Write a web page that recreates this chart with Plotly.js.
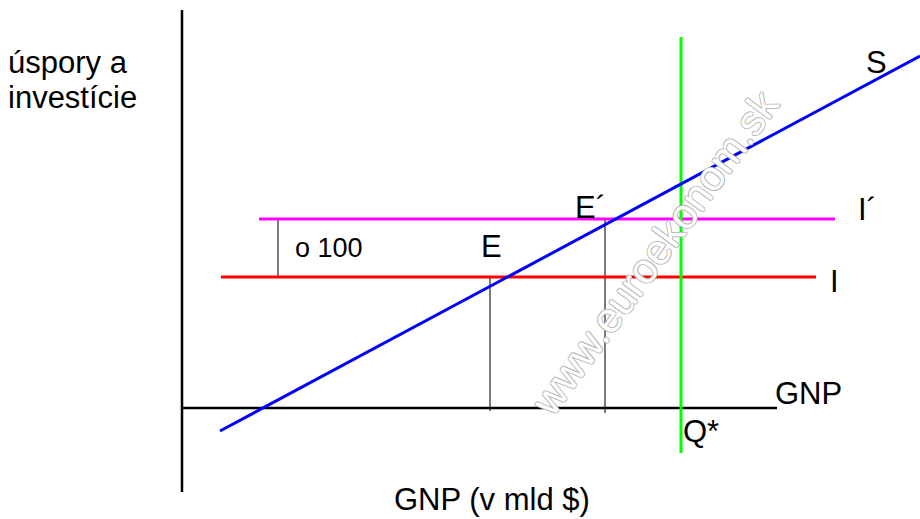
<!DOCTYPE html>
<html><head><meta charset="utf-8">
<script src="https://cdn.plot.ly/plotly-3.0.1.min.js"></script>
<style>html,body{margin:0;padding:0;background:#fff}#c{width:920px;height:519px}</style>
</head><body><div id="c"></div>
<script>
// Savings function S
const sX = [38, 738];
const sY = [-23, 352];
// Investment I
const iX = [39, 634];
const iY = [131, 131];
// Investment I´ (raised by 100)
const i2X = [77, 653];
const i2Y = [189, 189];
// Potential output Q*
const qX = [499, 499];
const qY = [371, -45];
// Equilibrium drop lines
const eX = [308, 308];
const eY = [131, -3];
const e2X = [423, 423];
const e2Y = [189, -5];
// Shift marker "o 100"
const dX = [96, 96];
const dY = [189, 131];
// Axes
const axYX = [0, 0];
const axYY = [398, -84];
const axXX = [0, 595];
const axXY = [0, 0];

const F = "Liberation Sans, Arial, sans-serif";
const line = (x, y, color, width) => ({x, y, type: 'scatter', mode: 'lines', line: {color, width}, hoverinfo: 'skip', showlegend: false});

const traces = [
  line(axYX, axYY, '#000', 2.5),
  line(axXX, axXY, '#000', 2.5),
  line(eX, eY, '#222', 1.2),
  line(e2X, e2Y, '#222', 1.2),
  line(dX, dY, '#222', 1.2),
  line(iX, iY, '#ff0000', 3),
  line(i2X, i2Y, '#ff00ff', 3),
  line(qX, qY, '#00ff00', 3),
  line(sX, sY, '#0000ff', 3)
];

const ann = (x, y, text, size, extra) => Object.assign({x, y, xref: 'x', yref: 'y', text, showarrow: false, font: {family: F, size, color: '#000'}}, extra || {});

const layout = {
  width: 920, height: 519,
  margin: {l: 0, r: 0, t: 0, b: 0},
  paper_bgcolor: '#fff', plot_bgcolor: '#fff',
  xaxis: {range: [-182, 738], visible: false, fixedrange: true},
  yaxis: {range: [-111, 408], visible: false, fixedrange: true},
  showlegend: false,
  annotations: [
    ann(472, 155, 'www.euroekonom.sk', 42, {textangle: -54, font: {family: F, size: 42, color: '#ffffff', shadow: '1px 0 #b4b4b4, -1px 0 #b4b4b4, 0 1px #b4b4b4, 0 -1px #b4b4b4'}}),
    ann(-176, 346, 'úspory a', 31, {xanchor: 'left'}),
    ann(-176, 311, 'investície', 31, {xanchor: 'left'}),
    ann(694, 346, 'S', 31),
    ann(685, 199, 'I´', 31),
    ann(652, 127, 'I', 31),
    ann(408, 201, 'E´', 31),
    ann(309, 162, 'E', 31),
    ann(147, 160, 'o 100', 27),
    ann(626, 15, 'GNP', 31),
    ann(519, -23, 'Q*', 31),
    ann(310, -91, 'GNP (v mld $)', 31)
  ]
};
Plotly.newPlot('c', traces, layout, {staticPlot: true, displayModeBar: false});
</script>
</body></html>
